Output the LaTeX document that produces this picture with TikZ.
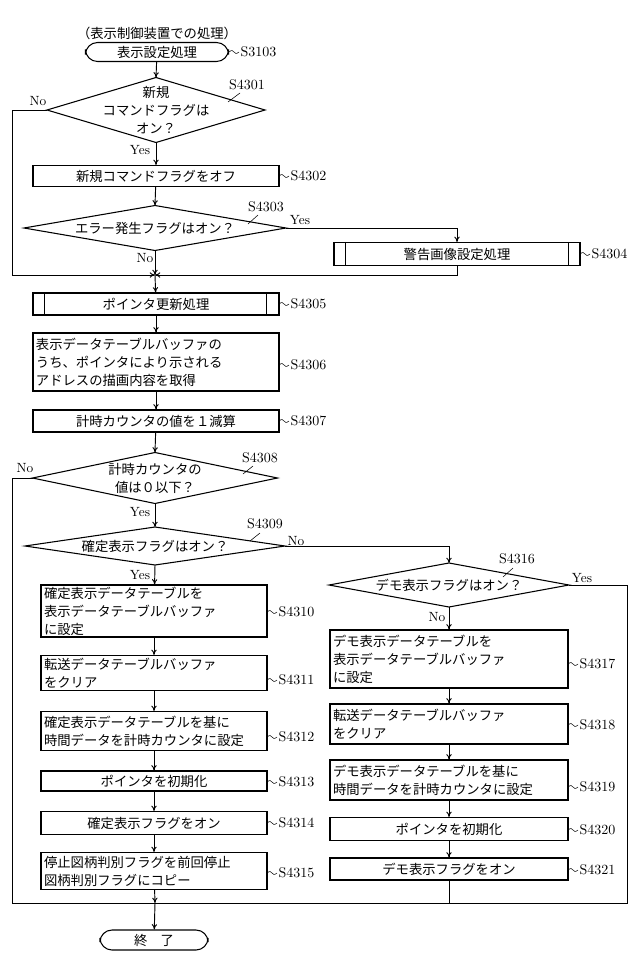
\documentclass[tikz,border=0pt]{standalone}
\usepackage{fontspec}
\newfontfamily\jp{Noto Sans CJK JP}
\usetikzlibrary{arrows.meta,calc}
\newcommand\dia[5]{%
  \coordinate (#1-l) at ({#2-#4/2},#3);
  \coordinate (#1-r) at ({#2+#4/2},#3);
  \coordinate (#1-t) at (#2,{#3-#5/2});
  \coordinate (#1-b) at (#2,{#3+#5/2});
  \draw[line width=0.8pt] (#1-l)--(#1-t)--(#1-r)--(#1-b)--cycle;}
\newcommand\lab[4]{% name, x-edge, y, text
  \node[lbl,anchor=west] (#1) at ({#2+10},#3) {#4};
  \draw[thin] (#2,#3) .. controls ({#2+6},{#3-5}) and ({#2+4},{#3+5}) .. (#1.west);}
\begin{document}
\begin{tikzpicture}[x=0.75pt,y=-0.75pt,
  every node/.style={font=\fontsize{10}{13.5}\selectfont},
  box/.style={draw,line width=0.8pt,rectangle,inner sep=0pt,font=\jp\fontsize{10}{13.5}\selectfont},
  jt/.style={font=\jp\fontsize{10}{13.5}\selectfont,inner sep=0pt,align=center},
  lbl/.style={inner sep=1pt,font=\fontsize{10.5}{12}\selectfont},
  yn/.style={inner sep=0pt,font=\fontsize{10}{12}\selectfont},
  term/.style={draw,line width=0.8pt,rounded corners=9pt,inner sep=0pt,font=\jp\fontsize{10}{13.5}\selectfont},
  ar/.style={-{To[length=4pt,width=4pt]},line width=0.7pt},
  ln/.style={line width=0.7pt}]
\useasboundingbox (0,0) rectangle (640,964);
% header and start
\node[jt] (hdr) at (157,33) {（表示制御装置での処理）};
\node[term,minimum width={143*0.75pt},minimum height={19*0.75pt}] (st) at (157,52) {表示設定処理};
\lab{l3103}{229}{52}{S3103}
% D1
\dia{d1}{156}{110}{218}{65}
\node[jt] (d1t) at (156,110) {新規\\コマンドフラグは\\オン？};
\node[lbl] (l4301) at (247,85) {S4301};
\draw[thin] (228,102) -- (240,93);
\node[yn] (no1) at (38,101) {No};
\node[yn] (yes1) at (140,150) {Yes};
\draw[ar] (st) -- (d1-t);
% S4302
\node[box,minimum width={246*0.75pt},minimum height={21*0.75pt}] (b4302) at (156,176) {新規コマンドフラグをオフ};
\lab{l4302}{279}{176}{S4302}
\draw[ar] (d1-b) -- (b4302);
% D2
\dia{d2}{155}{228}{262}{45}
\node[jt] (d2t) at (155,228) {エラー発生フラグはオン？};
\node[lbl] (l4303) at (266,207) {S4303};
\draw[thin] (248,224) -- (258,215);
\node[yn] (yes2) at (300,220) {Yes};
\node[yn] (no2) at (145,258) {No};
\draw[ar] (b4302) -- (d2-t);
% S4304
\node[box,minimum width={246*0.75pt},minimum height={23*0.75pt}] (b4304) at (457,254) {警告画像設定処理};
\draw[ln] ($(b4304.north west)+(12,0)$) -- ($(b4304.south west)+(12,0)$);
\draw[ln] ($(b4304.north east)+(-12,0)$) -- ($(b4304.south east)+(-12,0)$);
\lab{l4304}{580}{254}{S4304}
\draw[ar] (d2-r) -| (b4304);
\coordinate (j1) at (155,275);
\draw[ar] (b4304) |- (j1);
\draw[ar] (d2-b) -- (j1);
\draw[ar] (d1-l) -- (12,110) -- (12,275) -- (j1);
% S4305
\node[box,minimum width={246*0.75pt},minimum height={22*0.75pt}] (b4305) at (156,304) {ポインタ更新処理};
\draw[ln] ($(b4305.north west)+(12,0)$) -- ($(b4305.south west)+(12,0)$);
\draw[ln] ($(b4305.north east)+(-13,0)$) -- ($(b4305.south east)+(-13,0)$);
\lab{l4305}{279}{304}{S4305}
\draw[ar] (j1) -- (b4305);
% S4306
\node[box,minimum width={246*0.75pt},minimum height={58*0.75pt},text width={240*0.75pt},align=left] (b4306) at (156,362) {表示データテーブルバッファの\\うち、ポインタにより示される\\アドレスの描画内容を取得};
\lab{l4306}{279}{365}{S4306}
\draw[ar] (b4305) -- (b4306);
% S4307
\node[box,minimum width={246*0.75pt},minimum height={22*0.75pt}] (b4307) at (156,421) {計時カウンタの値を１減算};
\lab{l4307}{279}{421}{S4307}
\draw[ar] (b4306) -- (b4307);
% D S4308
\dia{d3}{155}{478}{245}{51}
\node[jt] (d3t) at (155,478) {計時カウンタの\\値は０以下？};
\node[lbl] (l4308) at (260,458) {S4308};
\draw[thin] (243,474) -- (253,466);
\node[yn] (no3) at (25,468) {No};
\node[yn] (yes3) at (140,512) {Yes};
\draw[ar] (b4307) -- (d3-t);
% D S4309
\dia{d4}{155}{546}{260}{38}
\node[jt] (d4t) at (155,546) {確定表示フラグはオン？};
\node[lbl] (l4309) at (265,524) {S4309};
\draw[thin] (250,541) -- (260,533);
\node[yn] (no4) at (296,541) {No};
\node[yn] (yes4) at (140,575) {Yes};
\draw[ar] (d3-b) -- (d4-t);
% D S4316
\dia{d5}{449}{585}{240}{44}
\node[jt] (d5t) at (449,585) {デモ表示フラグはオン？};
\node[lbl] (l4316) at (517,559) {S4316};
\draw[thin] (503,577) -- (513,568);
\node[yn] (yes5) at (582,578) {Yes};
\node[yn] (no5) at (437,617) {No};
\draw[ar] (d4-r) -| (d5-t);
% left column
\tikzset{lb/.style={box,minimum width={226*0.75pt},text width={220*0.75pt},align=left}}
\node[lb,minimum height={52*0.75pt}] (b4310) at (154,611) {確定表示データテーブルを\\表示データテーブルバッファ\\に設定};
\lab{l4310}{267}{612}{S4310}
\node[lb,minimum height={35*0.75pt}] (b4311) at (154,673) {転送データテーブルバッファ\\をクリア};
\lab{l4311}{267}{680}{S4311}
\node[lb,minimum height={39*0.75pt}] (b4312) at (154,731) {確定表示データテーブルを基に\\時間データを計時カウンタに設定};
\lab{l4312}{267}{737}{S4312}
\node[box,minimum width={226*0.75pt},minimum height={20*0.75pt}] (b4313) at (154,781) {ポインタを初期化};
\lab{l4313}{267}{782}{S4313}
\node[box,minimum width={226*0.75pt},minimum height={23*0.75pt}] (b4314) at (154,823) {確定表示フラグをオン};
\lab{l4314}{267}{823}{S4314}
\node[lb,minimum height={37*0.75pt}] (b4315) at (154,871) {停止図柄判別フラグを前回停止\\図柄判別フラグにコピー};
\lab{l4315}{267}{873}{S4315}
\draw[ar] (d4-b) -- (b4310);
\draw[ar] (b4310) -- (b4311);
\draw[ar] (b4311) -- (b4312);
\draw[ar] (b4312) -- (b4313);
\draw[ar] (b4313) -- (b4314);
\draw[ar] (b4314) -- (b4315);
% right column
\tikzset{rb/.style={box,minimum width={238*0.75pt},text width={232*0.75pt},align=left}}
\node[rb,minimum height={58*0.75pt}] (b4317) at (449,659) {デモ表示データテーブルを\\表示データテーブルバッファ\\に設定};
\lab{l4317}{568}{664}{S4317}
\node[rb,minimum height={40*0.75pt}] (b4318) at (449,724) {転送データテーブルバッファ\\をクリア};
\lab{l4318}{568}{725}{S4318}
\node[rb,minimum height={40*0.75pt}] (b4319) at (449,780) {デモ表示データテーブルを基に\\時間データを計時カウンタに設定};
\lab{l4319}{568}{787}{S4319}
\node[box,minimum width={238*0.75pt},minimum height={23*0.75pt}] (b4320) at (449,829) {ポインタを初期化};
\lab{l4320}{568}{830}{S4320}
\node[box,minimum width={238*0.75pt},minimum height={22*0.75pt}] (b4321) at (449,869) {デモ表示フラグをオン};
\lab{l4321}{568}{870}{S4321}
\draw[ar] (d5-b) -- (b4317);
\draw[ar] (b4317) -- (b4318);
\draw[ar] (b4318) -- (b4319);
\draw[ar] (b4319) -- (b4320);
\draw[ar] (b4320) -- (b4321);
% merge
\coordinate (j2) at (155,903);
\draw[ar] (b4315) -- (j2);
\draw[ln] (d3-l) -- (12,478) -- (12,903) -- (627,903) -- (627,585) -- (d5-r);
\draw[ln] (b4321) -- (449,903);
\node[term,minimum width={108*0.75pt},minimum height={20*0.75pt}] (end) at (154,940) {終\quad 了};
\draw[ar] (j2) -- (end);
\end{tikzpicture}
\end{document}
